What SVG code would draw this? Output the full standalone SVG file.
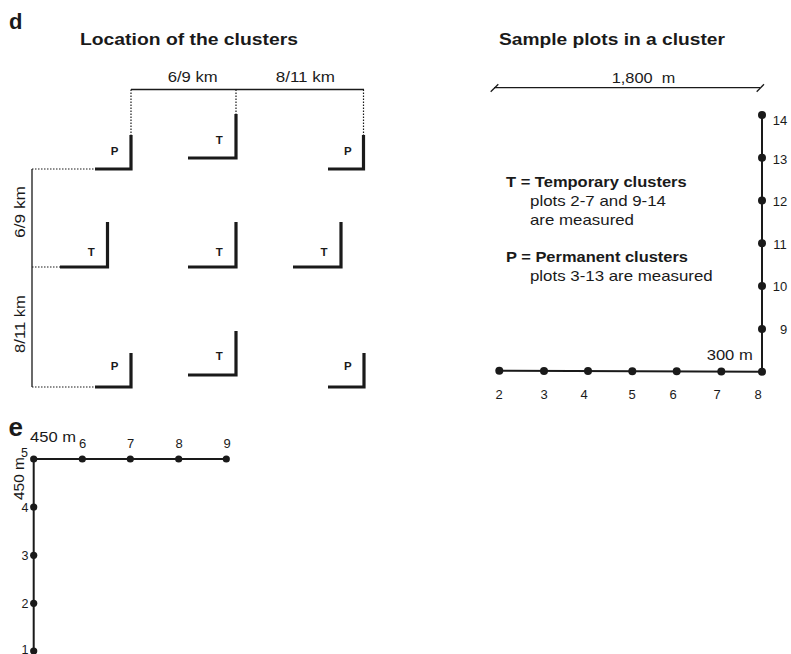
<svg xmlns="http://www.w3.org/2000/svg" width="791" height="654" viewBox="0 0 791 654">
<defs>
<style>
text{font-family:"Liberation Sans",Arial,Helvetica,sans-serif;fill:#1a1a1a}
.b{font-weight:bold}
.lbl{font-size:15px}
.cl{font-size:11.5px;font-weight:bold;text-anchor:middle}
.num{font-size:13px;text-anchor:middle}
.ne{font-size:12.5px;text-anchor:end}
.L{fill:none;stroke:#1a1a1a;stroke-width:3.2;stroke-linejoin:miter;stroke-linecap:butt}
.thin{fill:none;stroke:#1a1a1a;stroke-width:1.3}
.dot{fill:none;stroke:#1a1a1a;stroke-width:1.2;stroke-dasharray:1.5 1.5}
.path{fill:none;stroke:#1a1a1a;stroke-width:2}
.pt{fill:#1a1a1a}
</style>
</defs>
<rect width="791" height="654" fill="#fff"/>

<!-- panel letters and titles -->
<text x="9" y="29" class="b" font-size="22">d</text>
<text x="80" y="44.5" class="b" font-size="17" textLength="218" lengthAdjust="spacingAndGlyphs">Location of the clusters</text>
<text x="499" y="44.5" class="b" font-size="17" textLength="226" lengthAdjust="spacingAndGlyphs">Sample plots in a cluster</text>

<!-- connectors / dimension lines -->
<g id="connectors">
  <line class="thin" x1="131" y1="89.5" x2="364" y2="89.5"/>
  <line class="dot" x1="131" y1="89.5" x2="131" y2="135"/>
  <line class="dot" x1="236" y1="89.5" x2="236" y2="114"/>
  <line class="dot" x1="363.5" y1="89.5" x2="363.5" y2="135"/>
  <line class="thin" x1="32" y1="169" x2="32" y2="387"/>
  <line class="dot" x1="32" y1="169" x2="95" y2="169"/>
  <line class="dot" x1="32" y1="267" x2="60" y2="267"/>
  <line class="dot" x1="32" y1="387" x2="95" y2="387"/>
  <!-- 1,800 m bar -->
  <line class="thin" x1="494" y1="87.7" x2="760" y2="87.7"/>
  <line class="thin" x1="490.7" y1="91.7" x2="498.3" y2="84.3"/>
  <line class="thin" x1="756.7" y1="91.7" x2="764" y2="84.3"/>
  <!-- plot path d -->
  <polyline class="path" points="499.3,370.7 762,371.7 762,115"/>
  <!-- plot path e -->
  <polyline class="path" points="226.3,459 33.7,459 33.7,651"/>
</g>

<!-- dimension labels -->
<text x="167.7" y="82.3" class="lbl" textLength="50" lengthAdjust="spacingAndGlyphs">6/9 km</text>
<text x="275.7" y="82.3" class="lbl" textLength="59.3" lengthAdjust="spacingAndGlyphs">8/11 km</text>
<text class="lbl" text-anchor="middle" transform="translate(25,212) rotate(-90)" textLength="52" lengthAdjust="spacingAndGlyphs">6/9 km</text>
<text class="lbl" text-anchor="middle" transform="translate(25,324) rotate(-90)" textLength="58" lengthAdjust="spacingAndGlyphs">8/11 km</text>
<text x="611.7" y="82.7" class="lbl" textLength="41" lengthAdjust="spacingAndGlyphs">1,800</text>
<text x="661.7" y="82.7" class="lbl" textLength="13.5" lengthAdjust="spacingAndGlyphs">m</text>
<text x="706.7" y="360" class="lbl" textLength="46" lengthAdjust="spacingAndGlyphs">300 m</text>

<!-- legend -->
<text x="506" y="186.7" class="b lbl" textLength="180.7" lengthAdjust="spacingAndGlyphs">T = Temporary clusters</text>
<text x="530" y="206" class="lbl" textLength="136" lengthAdjust="spacingAndGlyphs">plots 2-7 and 9-14</text>
<text x="530" y="224.5" class="lbl" textLength="104" lengthAdjust="spacingAndGlyphs">are measured</text>
<text x="506" y="261.7" class="b lbl" textLength="182" lengthAdjust="spacingAndGlyphs">P = Permanent clusters</text>
<text x="530" y="281" class="lbl" textLength="182.7" lengthAdjust="spacingAndGlyphs">plots 3-13 are measured</text>

<!-- clusters -->
<g id="cluster-p1"><polyline class="L" points="131,135 131,169 95,169"/><text x="114.7" y="155" class="cl">P</text></g>
<g id="cluster-t1"><polyline class="L" points="236,114 236,158 188,158"/><text x="219.3" y="144" class="cl">T</text></g>
<g id="cluster-p2"><polyline class="L" points="363.5,135 363.5,169 328,169"/><text x="347.8" y="155" class="cl">P</text></g>
<g id="cluster-t2"><polyline class="L" points="107.5,222 107.5,267 60,267"/><text x="91.3" y="256" class="cl">T</text></g>
<g id="cluster-t3"><polyline class="L" points="236,222 236,267 188,267"/><text x="219.3" y="256" class="cl">T</text></g>
<g id="cluster-t4"><polyline class="L" points="341,222 341,267 293,267"/><text x="324" y="256" class="cl">T</text></g>
<g id="cluster-p3"><polyline class="L" points="131,353 131,387 95,387"/><text x="114.7" y="370" class="cl">P</text></g>
<g id="cluster-t5"><polyline class="L" points="236,331 236,375 188,375"/><text x="219.3" y="360" class="cl">T</text></g>
<g id="cluster-p4"><polyline class="L" points="364,353 364,387 328,387"/><text x="347.8" y="370" class="cl">P</text></g>

<!-- plots panel d -->
<g id="d-plot-2"><circle class="pt" cx="499.3" cy="370.7" r="4"/><text x="499" y="399.3" class="num">2</text></g>
<g id="d-plot-3"><circle class="pt" cx="544" cy="370.9" r="4"/><text x="544" y="399.3" class="num">3</text></g>
<g id="d-plot-4"><circle class="pt" cx="588" cy="371" r="4"/><text x="584" y="399.3" class="num">4</text></g>
<g id="d-plot-5"><circle class="pt" cx="632.3" cy="371.2" r="4"/><text x="632" y="399.3" class="num">5</text></g>
<g id="d-plot-6"><circle class="pt" cx="676.7" cy="371.3" r="4"/><text x="673" y="399.3" class="num">6</text></g>
<g id="d-plot-7"><circle class="pt" cx="721.3" cy="371.5" r="4"/><text x="717" y="399.3" class="num">7</text></g>
<g id="d-plot-8"><circle class="pt" cx="762" cy="371.7" r="4"/><text x="758" y="399.3" class="num">8</text></g>
<g id="d-plot-9"><circle class="pt" cx="762" cy="328.9" r="4"/><text x="783.5" y="334" class="num">9</text></g>
<g id="d-plot-10"><circle class="pt" cx="762" cy="286" r="4"/><text x="780" y="291" class="num">10</text></g>
<g id="d-plot-11"><circle class="pt" cx="762" cy="243.3" r="4"/><text x="780" y="249" class="num">11</text></g>
<g id="d-plot-12"><circle class="pt" cx="762" cy="200.5" r="4"/><text x="780" y="206" class="num">12</text></g>
<g id="d-plot-13"><circle class="pt" cx="762" cy="157.7" r="4"/><text x="780" y="164" class="num">13</text></g>
<g id="d-plot-14"><circle class="pt" cx="762" cy="115" r="4"/><text x="780" y="125" class="num">14</text></g>

<!-- panel e -->
<text x="8.5" y="435.5" class="b" font-size="26">e</text>
<text x="30" y="441.7" class="lbl" textLength="46" lengthAdjust="spacingAndGlyphs">450 m</text>
<text class="lbl" transform="translate(24,500) rotate(-90)" textLength="43" lengthAdjust="spacingAndGlyphs">450 m</text>
<g id="e-plot-5"><circle class="pt" cx="33.7" cy="459" r="3.6"/><text x="28" y="456.7" class="ne" font-size="11.5">5</text></g>
<g id="e-plot-6"><circle class="pt" cx="82.3" cy="459" r="3.6"/><text x="82.7" y="448.3" class="num">6</text></g>
<g id="e-plot-7"><circle class="pt" cx="130.3" cy="459" r="3.6"/><text x="130.5" y="448.3" class="num">7</text></g>
<g id="e-plot-8"><circle class="pt" cx="178.7" cy="459" r="3.6"/><text x="179" y="448.3" class="num">8</text></g>
<g id="e-plot-9"><circle class="pt" cx="226.3" cy="459" r="3.6"/><text x="227" y="448.3" class="num">9</text></g>
<g id="e-plot-4"><circle class="pt" cx="33.7" cy="507" r="3.6"/><text x="28.5" y="511.7" class="ne">4</text></g>
<g id="e-plot-3"><circle class="pt" cx="33.7" cy="555.3" r="3.6"/><text x="28.5" y="559.8" class="ne">3</text></g>
<g id="e-plot-2"><circle class="pt" cx="33.7" cy="603.3" r="3.6"/><text x="28.5" y="607.8" class="ne">2</text></g>
<g id="e-plot-1"><circle class="pt" cx="33.7" cy="651" r="3.6"/><text x="28.5" y="654" class="ne">1</text></g>
</svg>
